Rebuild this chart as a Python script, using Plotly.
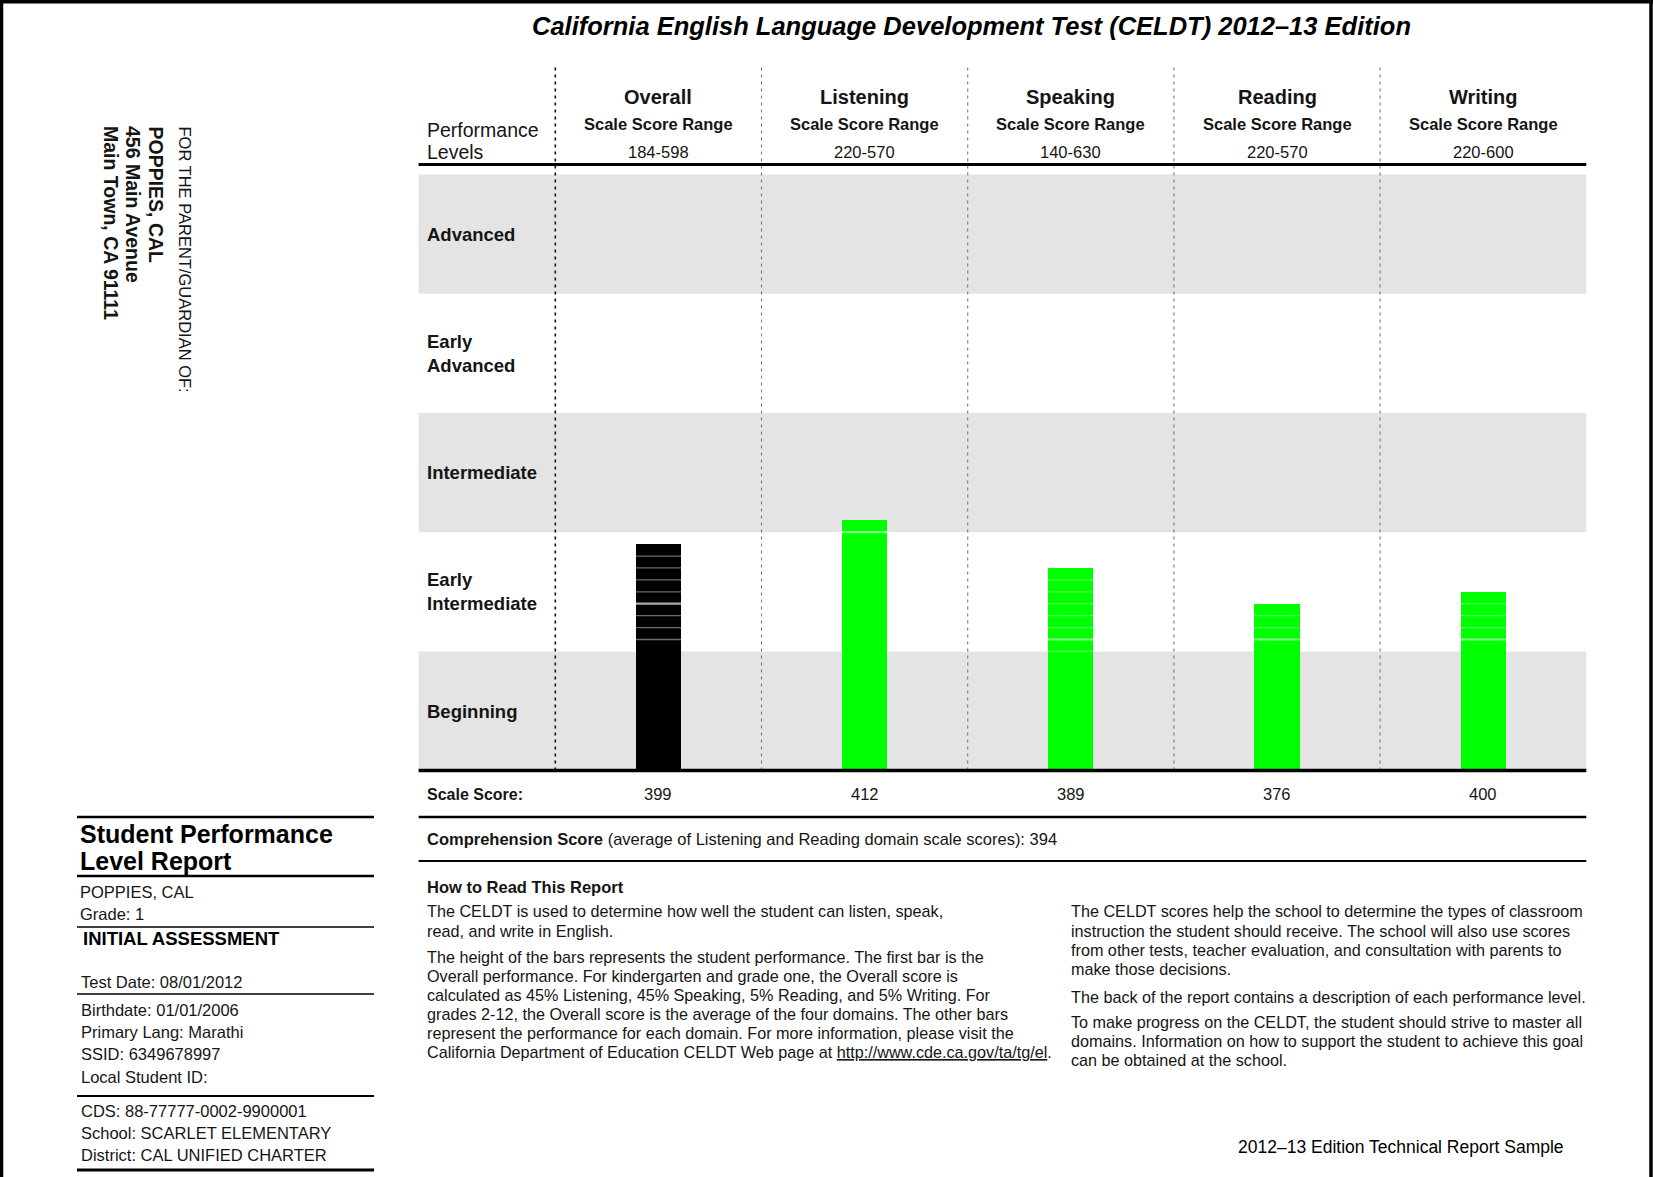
import plotly.graph_objects as go

W, H = 1653, 1177
FONT = "Liberation Sans, Arial, Helvetica, sans-serif"

# ---------------- data ----------------
domains = ["Overall", "Listening", "Speaking", "Reading", "Writing"]
score_ranges = ["184-598", "220-570", "140-630", "220-570", "220-600"]
scale_scores = [399, 412, 389, 376, 400]
# bar tops, expressed in performance-level bands (1 band = 1 unit)
bar_levels = [1.9, 2.1, 1.7, 1.4, 1.5]
bar_colors = ["#000000", "#00FF00", "#00FF00", "#00FF00", "#00FF00"]
# thin separators drawn inside each bar
seg_lines = [[1.1, 1.2, 1.3, 1.5, 1.6, 1.7, 1.8], [], [1.0, 1.2, 1.3, 1.4, 1.5, 1.6],
             [1.2, 1.3], [1.2, 1.3, 1.4]]
seg_strong = [[1.4], [2.0], [1.1], [1.1], [1.1]]
levels = ["Beginning", "Early<br>Intermediate", "Intermediate", "Early<br>Advanced", "Advanced"]
comprehension_score = 394

title = "California English Language Development Test (CELDT) 2012–13 Edition"
address = ["FOR THE PARENT/GUARDIAN OF:", "POPPIES, CAL", "456 Main Avenue", "Main Town, CA 91111"]
para_left_1 = ["The CELDT is used to determine how well the student can listen, speak,",
               "read, and write in English."]
para_left_2 = ["The height of the bars represents the student performance. The first bar is the",
               "Overall performance. For kindergarten and grade one, the Overall score is",
               "calculated as 45% Listening, 45% Speaking, 5% Reading, and 5% Writing. For",
               "grades 2-12, the Overall score is the average of the four domains. The other bars",
               "represent the performance for each domain. For more information, please visit the",
               "California Department of Education CELDT Web page at <u>http://www.cde.ca.gov/ta/tg/el</u>."]
para_right_1 = ["The CELDT scores help the school to determine the types of classroom",
                "instruction the student should receive. The school will also use scores",
                "from other tests, teacher evaluation, and consultation with parents to",
                "make those decisions."]
para_right_2 = ["The back of the report contains a description of each performance level."]
para_right_3 = ["To make progress on the CELDT, the student should strive to master all",
                "domains. Information on how to support the student to achieve this goal",
                "can be obtained at the school."]
info_lines = [("Test Date: 08/01/2012", 982), ("Birthdate: 01/01/2006", 1010),
              ("Primary Lang: Marathi", 1032), ("SSID: 6349678997", 1054),
              ("Local Student ID:", 1077), ("CDS: 88-77777-0002-9900001", 1111),
              ("School: SCARLET ELEMENTARY", 1133), ("District: CAL UNIFIED CHARTER", 1155)]

# ---------------- page geometry ----------------
X0PX, XUNIT = 658.4, 206.2      # px of column 0 centre, px per column
Y0PX, YUNIT = 770.6, 119.2      # px of baseline, px per band
xr = [-X0PX / XUNIT, (W - X0PX) / XUNIT]
yr = [-(H - Y0PX) / YUNIT, Y0PX / YUNIT]
XL, XR = -1.163, 4.5            # chart frame left/right (data units)
TX = 425                        # left text edge of the chart column


def yv(py):
    return (Y0PX - py) / YUNIT


def xp(px):
    return px / W


def yp(py):
    return 1 - py / H


fig = go.Figure()

fig.add_trace(go.Bar(x=list(range(len(domains))), y=bar_levels, width=0.22,
                     marker=dict(color=bar_colors, line=dict(width=0)),
                     hoverinfo="skip", showlegend=False))

# separator lines inside bars
for i in range(len(domains)):
    alpha = 0.42 if bar_colors[i] == "#000000" else 0.3
    for lst, a, wd in [(seg_lines[i], alpha, 1.3), (seg_strong[i], alpha + 0.25, 2.2)]:
        xs, ys = [], []
        for v in lst:
            xs += [i - 0.11, i + 0.11, None]
            ys += [v, v, None]
        if xs:
            fig.add_trace(go.Scatter(x=xs, y=ys, mode="lines",
                                     line=dict(color="rgba(255,255,255,%.2f)" % a, width=wd),
                                     hoverinfo="skip", showlegend=False))

shapes = []
# grey bands
for i in range(len(levels)):
    if i % 2 == 0:
        shapes.append(dict(type="rect", xref="x", yref="y", x0=XL, x1=XR, y0=i, y1=i + 1,
                           fillcolor="#E4E4E4", line=dict(width=0), layer="below"))
# column separators
for k in range(len(domains)):
    first = k == 0
    shapes.append(dict(type="line", xref="x", yref="y", x0=k - 0.5, x1=k - 0.5, y0=0, y1=yv(65),
                       line=dict(color="#111111" if first else "#777777",
                                 width=1.6 if first else 1.1, dash="3px,4px"), layer="below"))
# horizontal rules of the chart
for py, wd in [(164.5, 3), (Y0PX, 3.5), (817, 2.5), (861, 2.2)]:
    shapes.append(dict(type="line", xref="x", yref="y", x0=XL, x1=XR, y0=yv(py), y1=yv(py),
                       line=dict(color="black", width=wd), layer="above"))
# left info block rules
for py, wd in [(817, 2.6), (876, 2.6), (927, 1.5), (994, 1.5), (1096, 2), (1170, 3)]:
    shapes.append(dict(type="line", xref="paper", yref="paper", x0=xp(77), x1=xp(374),
                       y0=yp(py), y1=yp(py), line=dict(color="black", width=wd)))
# page frame (left, top, right)
for x0, y0, x1, y1 in [(1.5, 0, 1.5, H), (0, 1.8, W, 1.8), (W - 2, 0, W - 2, H)]:
    shapes.append(dict(type="line", xref="paper", yref="paper", x0=xp(x0), x1=xp(x1),
                       y0=yp(y0), y1=yp(y1), line=dict(color="black", width=3.5)))

ann = []


def txt(x, y, s, size=16.2, bold=False, xanchor="left", xref="paper", yref="paper",
        angle=0, yanchor="middle", color="#151515", italic=False):
    if bold:
        s = "<b>" + s + "</b>"
    if italic:
        s = "<i>" + s + "</i>"
    ann.append(dict(x=x, y=y, xref=xref, yref=yref, text=s, showarrow=False,
                    xanchor=xanchor, yanchor=yanchor, textangle=angle,
                    font=dict(family=FONT, size=size, color=color), align="left"))


# title
txt(xp(972), yp(26), title, size=25.5, bold=True, italic=True, xanchor="center", color="black")

# rotated address
for j, (line, px) in enumerate(zip(address, [184.5, 156, 133.5, 111])):
    txt(xp(px), yp(124), line, size=16.5 if j == 0 else 19.5, bold=(j > 0), angle=90,
        xanchor="center", yanchor="top")

# header row
txt(xp(TX), yp(130), "Performance", size=19.5)
txt(xp(TX), yp(152), "Levels", size=19.5)
for i, (d, r) in enumerate(zip(domains, score_ranges)):
    txt(i, yp(97), d, size=20, bold=True, xref="x", xanchor="center")
    txt(i, yp(124), "Scale Score Range", size=16.5, bold=True, xref="x", xanchor="center")
    txt(i, yp(152), r, size=16.5, xref="x", xanchor="center")

# level labels
for i, lv in enumerate(levels):
    txt(xp(TX), i + 0.5, lv, size=18.5, bold=True, yref="y")

# scale scores row
txt(xp(TX), yp(794), "Scale Score:", size=16, bold=True)
for i, s in enumerate(scale_scores):
    txt(i, yp(794), str(s), size=16.5, xref="x", xanchor="center")

txt(xp(TX), yp(839), "<b>Comprehension Score</b> (average of Listening and Reading domain scale scores): "
    + str(comprehension_score), size=16.5)

# how to read
txt(xp(TX), yp(887), "How to Read This Report", size=16.5, bold=True)
for line, py in zip(para_left_1 + para_left_2, [911, 931, 957, 976, 995, 1014, 1033, 1052]):
    txt(xp(TX), yp(py), line, size=16.2)
for line, py in zip(para_right_1 + para_right_2 + para_right_3,
                    [911, 931, 950, 969, 997, 1021.5, 1040.5, 1059.5]):
    txt(xp(1069), yp(py), line, size=16.2)

txt(xp(1566), yp(1147), "2012–13 Edition Technical Report Sample", size=17.5, xanchor="right", color="black")

# left info block
txt(xp(78), yp(834), "Student Performance", size=25, bold=True, color="black")
txt(xp(78), yp(861), "Level Report", size=25, bold=True, color="black")
for line, py in [("POPPIES, CAL", 892), ("Grade: 1", 914)]:
    txt(xp(78), yp(py), line, size=16.5)
txt(xp(81), yp(938), "INITIAL ASSESSMENT", size=18.5, bold=True, color="black")
for line, py in info_lines:
    txt(xp(79), yp(py), line, size=16.5)

fig.update_layout(
    width=W, height=H, margin=dict(l=0, r=0, t=0, b=0),
    paper_bgcolor="white", plot_bgcolor="rgba(0,0,0,0)",
    xaxis=dict(range=xr, domain=[0, 1], visible=False, fixedrange=True),
    yaxis=dict(range=yr, domain=[0, 1], visible=False, fixedrange=True),
    shapes=shapes, annotations=ann, showlegend=False, bargap=0,
)

fig.write_html("out.html", config={"displayModeBar": False},
               post_script="document.body.style.margin='0';document.body.style.overflow='hidden';")
